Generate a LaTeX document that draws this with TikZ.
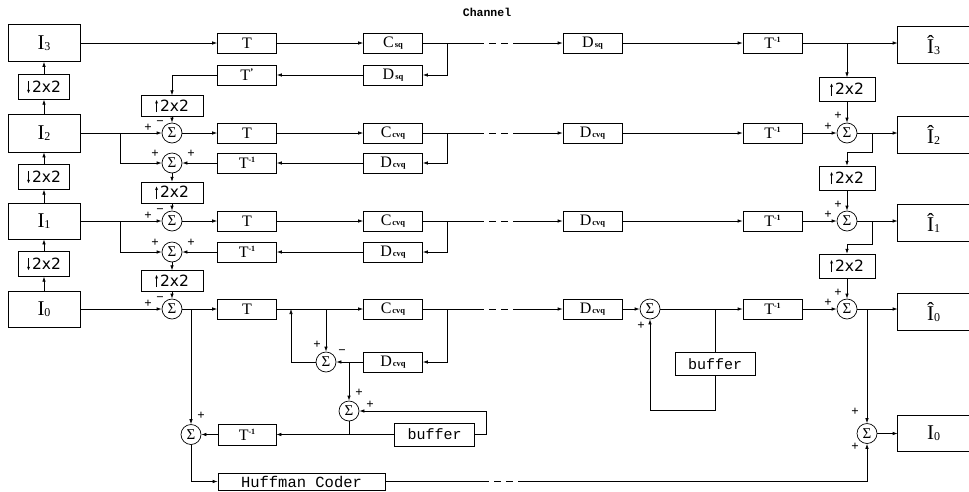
\documentclass[tikz,border=0pt]{standalone}
\usepackage{fontspec}
\setmainfont{Liberation Serif}
\setsansfont{DejaVu Sans}
\setmonofont{Liberation Mono}
\usetikzlibrary{arrows.meta,calc}
\newcommand{\Tf}{{\fontsize{16}{16}\selectfont T}}
\newcommand{\Ti}{{\fontsize{16}{16}\selectfont T\raisebox{6pt}{\fontsize{8}{8}\selectfont\bfseries -1}}}
\newcommand{\Tq}{{\fontsize{16}{16}\selectfont T\raisebox{5pt}{\fontsize{10}{10}\selectfont\bfseries '}}}
\newcommand{\CD}[2]{{\fontsize{16}{16}\selectfont #1\hspace{1pt}\raisebox{-0.5pt}{\fontsize{8.5}{8.5}\selectfont\bfseries #2}}}
\newcommand{\Imain}[1]{{\fontsize{21}{21}\selectfont I\raisebox{-1pt}{\fontsize{12}{12}\selectfont #1}}}
\newcommand{\Ihat}[1]{{\fontsize{21}{21}\selectfont \^{I}\raisebox{-1pt}{\fontsize{12}{12}\selectfont #1}}}
\newcommand{\uparr}{\tikz[baseline=0pt]\draw[line width=0.6pt,-{Stealth[length=3.5pt,width=3pt]}] (0pt,-1pt) -- (0pt,11pt);}
\newcommand{\dnarr}{\tikz[baseline=0pt]\draw[line width=0.6pt,-{Stealth[length=3.5pt,width=3pt]}] (0pt,11pt) -- (0pt,-1pt);}
\newcommand{\updn}[1]{{#1\hspace{2pt}\sffamily\fontsize{15.5}{15.5}\selectfont 2x2}}
\begin{document}
\begin{tikzpicture}[x=1pt,y=-1pt,line width=0.7pt,
  arr/.style={-{Latex[length=5pt,width=3.5pt]}},
  bx/.style={draw,inner sep=0pt,minimum width=72pt},
  dbox/.style={draw,inner sep=0pt,minimum width=51pt,minimum height=25pt},
  ubox/.style={draw,inner sep=0pt,minimum width=62pt,minimum height=21pt},
  rbox/.style={draw,inner sep=0pt,minimum width=56pt,minimum height=24pt},
  tb/.style={draw,inner sep=0pt,minimum width=59pt,minimum height=20pt},
  obox/.style={inner sep=0pt,minimum width=71pt,minimum height=36pt},
  sig/.style={circle,draw,inner sep=0pt,minimum size=20pt,font=\fontsize{15}{15}\selectfont},
  bbox/.style={draw,inner sep=0pt,minimum width=80pt,minimum height=23pt,font=\ttfamily\fontsize{15}{15}\selectfont},
  pm/.style={inner sep=0pt,font=\bfseries\fontsize{13}{13}\selectfont},
  chd/.style={dash pattern=on 7pt off 5pt}]
\useasboundingbox (0,0) rectangle (969,491);

% ---- left column
\node[bx,minimum height=37pt] (I3) at (44,43) {\Imain{3}};
\node[bx,minimum height=38pt] (I2) at (44,133) {\Imain{2}};
\node[bx,minimum height=36pt] (I1) at (44,221) {\Imain{1}};
\node[bx,minimum height=36pt] (I0) at (44,309) {\Imain{0}};
\node[dbox] (d3) at (44,87) {\updn{\dnarr}};
\node[dbox] (d2) at (44,177) {\updn{\dnarr}};
\node[dbox] (d1) at (44,264) {\updn{\dnarr}};
\draw[arr] (I2.north) -- (d3.south);
\draw[arr] (d3.north) -- (I3.south);
\draw[arr] (I1.north) -- (d2.south);
\draw[arr] (d2.north) -- (I2.south);
\draw[arr] (I0.north) -- (d1.south);
\draw[arr] (d1.north) -- (I1.south);

\node[font=\ttfamily\bfseries\fontsize{11.5}{11.5}\selectfont] (chan) at (487,12) {Channel};

% ---- row 3
\node[tb] (T3) at (247,43) {\Tf};
\node[tb] (C3) at (393,43) {\CD{C}{sq}};
\node[tb] (Dc3) at (592.5,43) {\CD{D}{sq}};
\node[tb] (Ti3r) at (772.5,43) {\Ti};
\node[obox] (Oh3) at (933.5,45) {\Ihat{3}};
\draw (Oh3.north east) -- (Oh3.north west) -- (Oh3.south west) -- (Oh3.south east);
\coordinate (c3a) at (447,43);
\coordinate (ch3a) at (477,43);
\coordinate (ch3b) at (518,43);
\coordinate (b3) at (847,43);
\draw[arr] (I3.east) -- (T3.west);
\draw[arr] (T3) -- (C3);
\draw (C3.east) -- (ch3a);
\draw[chd] (ch3a) -- (ch3b);
\draw[arr] (ch3b) -- (Dc3.west);
\draw[arr] (Dc3) -- (Ti3r);
\draw[arr] (Ti3r.east) -- (Ti3r.east -| Oh3.west);
\node[tb] (D3) at (393,75) {\CD{D}{sq}};
\node[tb] (Tq3) at (247,75) {\Tq};
\draw[arr] (c3a) |- (D3.east);
\draw[arr] (D3) -- (Tq3);
\node[ubox] (U3) at (172,106) {\updn{\uparr}};
\draw[arr] (Tq3.west) -| (U3.north);
\node[rbox] (R3) at (847,89.5) {\updn{\uparr}};
\draw[arr] (b3) -- (R3.north);

% ---- row 2
\node[sig] (S2) at (172,133) {Σ};
\node[sig] (S2b) at (172,163) {Σ};
\node[tb] (T2) at (247,133) {\Tf};
\node[tb] (C2) at (393,133) {\CD{C}{cvq}};
\node[tb] (D2) at (393,163) {\CD{D}{cvq}};
\node[tb] (Ti2) at (247,163) {\Ti};
\node[tb] (Dc2) at (592.5,133) {\CD{D}{cvq}};
\node[tb] (Ti2r) at (772.5,133) {\Ti};
\node[sig] (Sr2) at (847,133) {Σ};
\node[obox] (Oh2) at (933.5,135) {\Ihat{2}};
\draw (Oh2.north east) -- (Oh2.north west) -- (Oh2.south west) -- (Oh2.south east);
\coordinate (a2) at (120,133);
\coordinate (c2a) at (447,133);
\coordinate (ch2a) at (477,133);
\coordinate (ch2b) at (518,133);
\coordinate (n2) at (872,133);
\coordinate (n2b) at (872,152);
\draw[arr] (U3) -- (S2);
\draw[arr] (I2.east) -- (S2.west);
\draw[arr] (a2) |- (S2b.west);
\draw[arr] (S2) -- (T2);
\draw[arr] (T2) -- (C2);
\draw (C2.east) -- (ch2a);
\draw[chd] (ch2a) -- (ch2b);
\draw[arr] (ch2b) -- (Dc2.west);
\draw[arr] (c2a) |- (D2.east);
\draw[arr] (D2) -- (Ti2);
\draw[arr] (Ti2) -- (S2b);
\draw[arr] (Dc2) -- (Ti2r);
\draw[arr] (Ti2r) -- (Sr2);
\draw[arr] (R3) -- (Sr2);
\draw[arr] (Sr2.east) -- (Sr2.east -| Oh2.west);
\node[ubox] (U2) at (172,192.5) {\updn{\uparr}};
\draw[arr] (S2b) -- (U2);
\node[rbox] (R2) at (847,178) {\updn{\uparr}};
\draw[arr] (n2) -- (n2b) -| (R2.north);
\node[pm] (p2a) at (148,128) {+};
\node[pm] (p2b) at (160,123) {−};
\node[pm] (p2c) at (155,154) {+};
\node[pm] (p2d) at (191,154) {+};
\node[pm] (p2e) at (828,127) {+};
\node[pm] (p2f) at (838,116) {+};

% ---- row 1
\node[sig] (S1) at (172,221) {Σ};
\node[sig] (S1b) at (172,252) {Σ};
\node[tb] (T1) at (247,221) {\Tf};
\node[tb] (C1) at (393,221) {\CD{C}{cvq}};
\node[tb] (D1) at (393,252) {\CD{D}{cvq}};
\node[tb] (Ti1) at (247,252) {\Ti};
\node[tb] (Dc1) at (592.5,221) {\CD{D}{cvq}};
\node[tb] (Ti1r) at (772.5,221) {\Ti};
\node[sig] (Sr1) at (847,221) {Σ};
\node[obox] (Oh1) at (933.5,223) {\Ihat{1}};
\draw (Oh1.north east) -- (Oh1.north west) -- (Oh1.south west) -- (Oh1.south east);
\coordinate (a1) at (120,221);
\coordinate (c1a) at (447,221);
\coordinate (ch1a) at (477,221);
\coordinate (ch1b) at (518,221);
\coordinate (n1) at (872,221);
\coordinate (n1b) at (872,244);
\draw[arr] (U2) -- (S1);
\draw[arr] (I1.east) -- (S1.west);
\draw[arr] (a1) |- (S1b.west);
\draw[arr] (S1) -- (T1);
\draw[arr] (T1) -- (C1);
\draw (C1.east) -- (ch1a);
\draw[chd] (ch1a) -- (ch1b);
\draw[arr] (ch1b) -- (Dc1.west);
\draw[arr] (c1a) |- (D1.east);
\draw[arr] (D1) -- (Ti1);
\draw[arr] (Ti1) -- (S1b);
\draw[arr] (Dc1) -- (Ti1r);
\draw[arr] (Ti1r) -- (Sr1);
\draw[arr] (R2) -- (Sr1);
\draw[arr] (Sr1.east) -- (Sr1.east -| Oh1.west);
\node[ubox] (U1) at (172,281) {\updn{\uparr}};
\draw[arr] (S1b) -- (U1);
\node[rbox] (R1) at (847,266) {\updn{\uparr}};
\draw[arr] (n1) -- (n1b) -| (R1.north);
\node[pm] (p1a) at (148,216) {+};
\node[pm] (p1b) at (160,211) {−};
\node[pm] (p1c) at (155,243) {+};
\node[pm] (p1d) at (191,243) {+};
\node[pm] (p1e) at (828,215) {+};
\node[pm] (p1f) at (838,205) {+};

% ---- row 0
\node[sig] (S0) at (172,309) {Σ};
\node[tb] (T0) at (247,309) {\Tf};
\node[tb] (C0) at (393,309) {\CD{C}{cvq}};
\node[tb] (D0) at (393,362) {\CD{D}{cvq}};
\node[sig] (Sm) at (326,362) {Σ};
\node[sig] (Sa) at (349,411) {Σ};
\node[bbox] (B1) at (434.5,434.5) {buffer};
\node[tb,minimum width=58pt,minimum height=21pt] (Tb) at (247,434.5) {\Ti};
\node[sig] (Sh) at (191,434.5) {Σ};
\node[draw,inner sep=0pt,minimum width=167pt,minimum height=17pt,font=\ttfamily\fontsize{15.5}{15.5}\selectfont] (H) at (301.5,481.5) {Huffman Coder};
\node[tb] (Dc0) at (592.5,309) {\CD{D}{cvq}};
\node[sig] (Sd) at (650,309) {Σ};
\node[bbox] (B2) at (715,364) {buffer};
\node[tb] (Ti0r) at (772.5,309) {\Ti};
\node[sig] (Sr0) at (847,309) {Σ};
\node[obox] (Oh0) at (933.5,312) {\Ihat{0}};
\draw (Oh0.north east) -- (Oh0.north west) -- (Oh0.south west) -- (Oh0.south east);
\node[sig] (So) at (867,433.5) {Σ};
\node[obox,minimum height=35pt] (O0) at (933.5,433.5) {\Imain{0}};
\draw (O0.north east) -- (O0.north west) -- (O0.south west) -- (O0.south east);
\coordinate (g0) at (191,309);
\coordinate (p0) at (291,309);
\coordinate (q0) at (326,309);
\coordinate (c0a) at (447,309);
\coordinate (ch0a) at (477,309);
\coordinate (ch0b) at (518,309);
\coordinate (e0) at (349,362);
\coordinate (f0) at (349,434.5);
\coordinate (j0) at (486,434.5);
\coordinate (h1) at (482,481.5);
\coordinate (h2) at (518,481.5);
\coordinate (k0) at (715,309);
\coordinate (k1) at (715,410);
\coordinate (m0) at (867,309);
\draw[arr] (U1) -- (S0);
\draw[arr] (I0.east) -- (S0.west);
\draw[arr] (S0) -- (T0);
\draw[arr] (T0) -- (C0);
\draw (C0.east) -- (ch0a);
\draw[chd] (ch0a) -- (ch0b);
\draw[arr] (ch0b) -- (Dc0.west);
\draw[arr] (c0a) |- (D0.east);
\draw[arr] (D0) -- (Sm);
\draw[arr] (q0) -- (Sm.north);
\draw[arr] (Sm.west) -| (p0);
\draw[arr] (e0) -- (Sa.north);
\draw (Sa.south) -- (f0);
\draw[arr] (B1.west) -- (Tb.east);
\draw[arr] (B1.east) -- (j0) |- (Sa.east);
\draw[arr] (Tb) -- (Sh);
\draw[arr] (g0) -- (Sh.north);
\draw[arr] (Sh.south) |- (H.west);
\draw (H.east) -- (h1);
\draw[chd] (h1) -- (h2);
\draw[arr] (h2) -| (So.south);
\draw[arr] (Dc0) -- (Sd);
\draw[arr] (Sd) -- (Ti0r);
\draw (k0) -- (B2.north);
\draw[arr] (B2.south) -- (k1) -| (Sd.south);
\draw[arr] (Ti0r) -- (Sr0);
\draw[arr] (R1) -- (Sr0);
\draw[arr] (Sr0.east) -- (Sr0.east -| Oh0.west);
\draw[arr] (m0) -- (So.north);
\draw[arr] (So) -- (O0.west);
\node[pm] (p0a) at (148,304) {+};
\node[pm] (p0b) at (160,299) {−};
\node[pm] (p0c) at (317,345) {+};
\node[pm] (p0d) at (342,352) {−};
\node[pm] (p0e) at (359,393) {+};
\node[pm] (p0f) at (370,405) {+};
\node[pm] (p0g) at (201,416) {+};
\node[pm] (p0h) at (641,326) {+};
\node[pm] (p0i) at (828,303) {+};
\node[pm] (p0j) at (838,293) {+};
\node[pm] (p0k) at (855,412) {+};
\node[pm] (p0l) at (855,447) {+};
\end{tikzpicture}
\end{document}
